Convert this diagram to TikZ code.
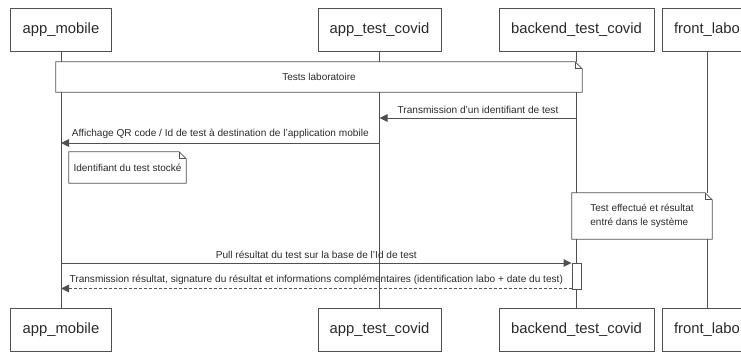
\documentclass[tikz,border=0pt]{standalone}
\usepackage{fontspec}
\setmainfont{Liberation Sans}
\usetikzlibrary{arrows.meta}
\definecolor{ln}{HTML}{505050}
\definecolor{tx}{HTML}{2A2A2A}
\begin{document}
\begin{tikzpicture}[x=1pt,y=-1pt,
  part/.style={draw=ln,line width=0.9pt,fill=white,text=tx,inner sep=0pt,minimum height=43pt,font=\fontsize{14.8}{16}\selectfont},
  life/.style={draw=ln,line width=0.9pt},
  notebox/.style={fill=white,text=tx,inner sep=0pt,font=\fontsize{10}{14}\selectfont},
  noteline/.style={draw=ln,line width=0.8pt},
  msg/.style={draw=ln,line width=0.9pt,-{Triangle[length=8pt,width=7.5pt]}},
  ret/.style={msg,dashed,dash pattern=on 3pt off 2pt},
  lbl/.style={text=tx,inner sep=0pt,font=\fontsize{10.1}{12}\selectfont},
  act/.style={draw=ln,line width=0.9pt,fill=white,inner sep=0pt}]
\useasboundingbox (0,0) rectangle (741,351);
\clip (0,0) rectangle (741,351);
% participants
\node[part,minimum width=101pt] (am) at (61,29.5) {app\_mobile};
\node[part,minimum width=123pt] (at) at (379.5,29.5) {app\_test\_covid};
\node[part,minimum width=155pt] (bk) at (576.5,29.5) {backend\_test\_covid};
\node[part,minimum width=90pt] (fl) at (707,29.5) {front\_labo};
\node[part,minimum width=101pt] (am2) at (61,329.5) {app\_mobile};
\node[part,minimum width=123pt] (at2) at (379.5,329.5) {app\_test\_covid};
\node[part,minimum width=155pt] (bk2) at (576.5,329.5) {backend\_test\_covid};
\node[part,minimum width=90pt] (fl2) at (707,329.5) {front\_labo};
% lifelines
\draw[life] (am.south) -- (am2.north);
\draw[life] (at.south) -- (at2.north);
\draw[life] (bk.south) -- (bk2.north);
\draw[life] (fl.south) -- (fl2.north);
% note 1
\node[notebox,minimum width=526pt,minimum height=30pt] (n1) at (319,77) {Tests laboratoire};
\draw[noteline] (n1.south west) -- (n1.north west) -- ([xshift=-7pt]n1.north east) -- ([yshift=-7pt]n1.north east) -- (n1.south east) -- cycle;
\draw[noteline] ([xshift=-7pt]n1.north east) |- ([yshift=-7pt]n1.north east);
% message 1
\coordinate (m1a) at (576.5,118);
\coordinate (m1b) at (379.5,118);
\draw[msg] (m1a) -- node[lbl,above=4pt] {Transmission d'un identifiant de test} (m1b);
% message 2
\coordinate (m2a) at (379.5,143);
\coordinate (m2b) at (61,143);
\draw[msg] (m2a) -- node[lbl,above=4pt] {Affichage QR code / Id de test à destination de l'application mobile} (m2b);
% note 2
\node[notebox,minimum width=117pt,minimum height=31pt] (n2) at (127.5,167.5) {Identifiant du test stocké};
\draw[noteline] (n2.south west) -- (n2.north west) -- ([xshift=-7pt]n2.north east) -- ([yshift=-7pt]n2.north east) -- (n2.south east) -- cycle;
\draw[noteline] ([xshift=-7pt]n2.north east) |- ([yshift=-7pt]n2.north east);
% note 3
\node[notebox,minimum width=140pt,minimum height=46pt,align=left] (n3) at (642,216) {Test effectué et résultat\\entré dans le système};
\draw[noteline] (n3.south west) -- (n3.north west) -- ([xshift=-7pt]n3.north east) -- ([yshift=-7pt]n3.north east) -- (n3.south east) -- cycle;
\draw[noteline] ([xshift=-7pt]n3.north east) |- ([yshift=-7pt]n3.north east);
% activation
\node[act,minimum width=9pt,minimum height=26pt] (ac) at (576.5,276) {};
% message 3
\coordinate (m3a) at (61,263);
\draw[msg] (m3a) -- node[lbl,above=4pt] {Pull résultat du test sur la base de l'Id de test} (m3a -| ac.west);
% message 4
\coordinate (m4b) at (61,288.5);
\draw[ret] (m4b -| ac.west) -- node[lbl,above=3pt] {Transmission résultat, signature du résultat et informations complémentaires (identification labo + date du test)} (m4b);
\end{tikzpicture}
\end{document}
